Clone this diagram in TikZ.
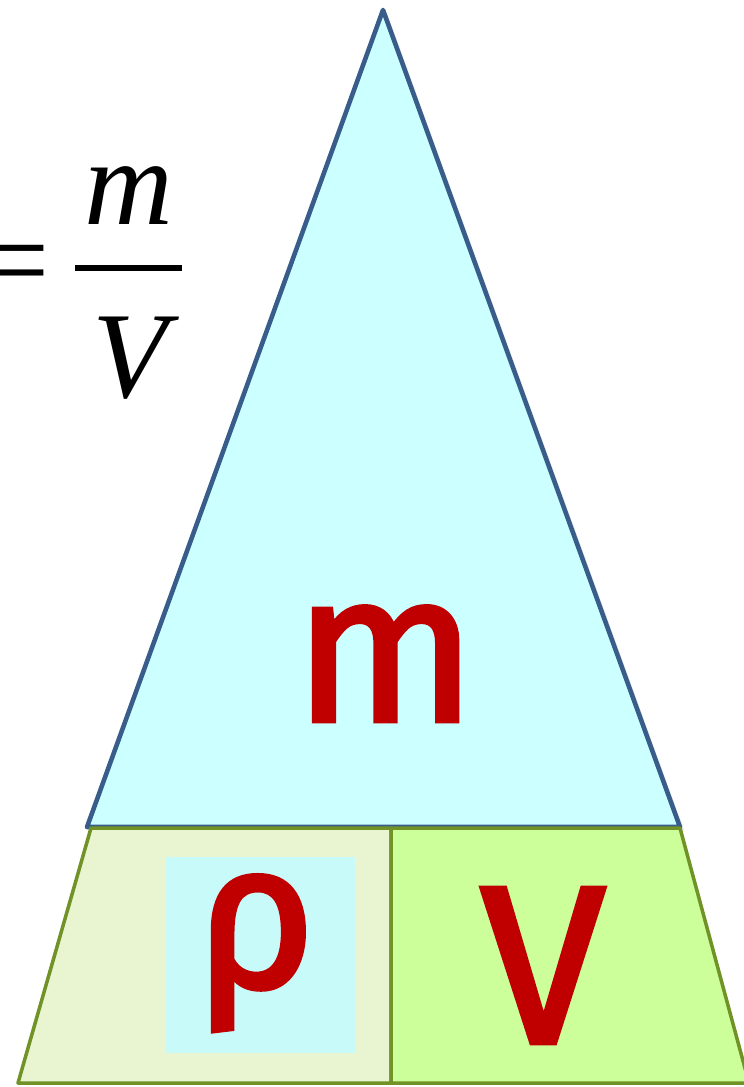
\documentclass[tikz,border=0pt]{standalone}
\usepackage{fontspec}
\usepackage{tikz}
\usetikzlibrary{shadows}
\newfontfamily\letterfont{Fira Sans}[FakeBold=2.2]
\newfontfamily\formulafont{Liberation Serif}
\definecolor{massfill}{RGB}{204,255,255}
\definecolor{massline}{RGB}{56,93,138}
\definecolor{baseline}{RGB}{112,146,38}
\definecolor{rhofill}{RGB}{232,245,208}
\definecolor{volfill}{RGB}{204,255,153}
\definecolor{rhobox}{RGB}{200,250,250}
\definecolor{letterred}{RGB}{192,0,0}
\tikzset{
  part/.style={line width=2pt,draw=baseline,line join=round},
  letter/.style={text=letterred,inner sep=0pt,anchor=base,font=\letterfont\fontsize{#1}{#1}\selectfont},
  formula/.style={inner sep=0pt,anchor=base,font=\formulafont\itshape\fontsize{70}{80}\selectfont}
}

\begin{document}
\begin{tikzpicture}[x=0.02cm,y=-0.02cm]
  \useasboundingbox (0,0) rectangle (743,1087);
  \coordinate (apex) at (383,10);
  \coordinate (tl) at (87,827);
  \coordinate (tr) at (680,827);
  % mass triangle
  \filldraw[massfill,draw=massline,line width=2.6pt,line join=round,
    drop shadow={opacity=0.2,shadow xshift=0.08cm,shadow yshift=-0.06cm}]
    (apex) -- (tl) -- (tr) -- cycle;
  % base: density and volume
  \filldraw[part,fill=rhofill] (91,828) -- (391,828) -- (391,1083) -- (18,1083) -- cycle;
  \filldraw[part,fill=volfill] (391,828) -- (680,828) -- (749,1083) -- (391,1083) -- cycle;
  \fill[rhobox] (166,857) rectangle (355,1053);
  \node[letter=121] (m) at (385,721) {m};
  \node[letter=118] (rho) at (256,987) {ρ};
  \node[letter=128] (V) at (543,1043) {V};
  % formula, cut at the left edge
  \node[formula,anchor=base east,font=\formulafont\fontsize{70}{80}\selectfont] (eq) at (50,302) {=};
  \node[formula] (num) at (129,225) {m};
  \node[formula] (den) at (130,398) {V};
  \draw[line width=3pt] (75,268) -- (182,268);
\end{tikzpicture}
\end{document}
